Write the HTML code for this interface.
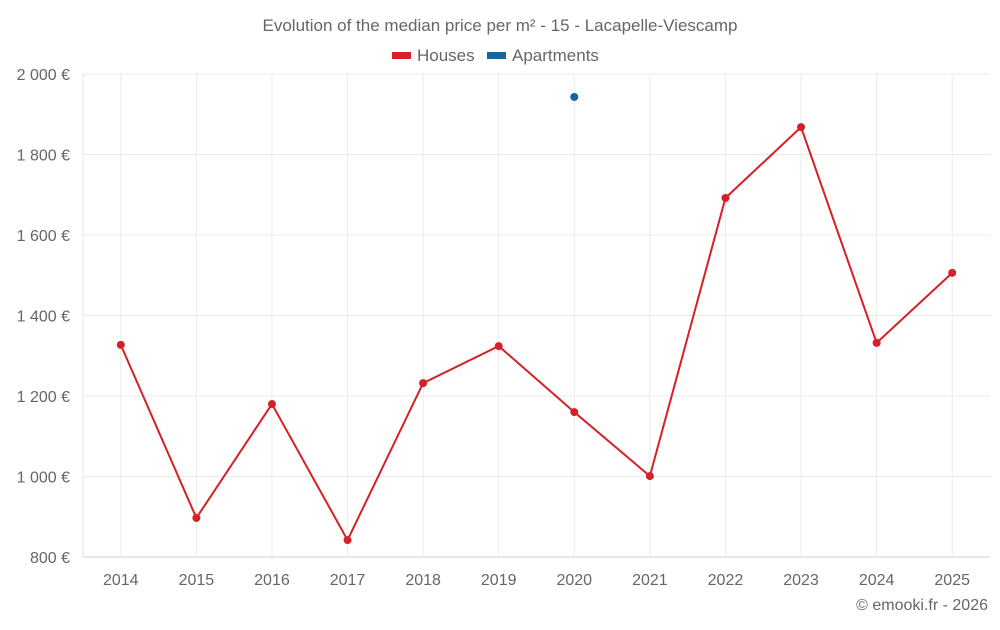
<!DOCTYPE html>
<html><head><meta charset="utf-8"><style>
body{margin:0;background:#fff;font-family:"Liberation Sans",sans-serif}
svg text{font-family:"Liberation Sans",sans-serif;fill:#666}
</style></head><body>
<svg id="c" width="1000" height="625">
<text x="500" y="31" text-anchor="middle" font-size="17">Evolution of the median price per m² - 15 - Lacapelle-Viescamp</text>
<g>
<rect x="392" y="52" width="19" height="7" fill="#d62027"/>
<text x="417" y="61" font-size="17">Houses</text>
<rect x="487" y="52" width="19" height="7" fill="#0f66a0"/>
<text x="512" y="61" font-size="17">Apartments</text>
</g>
<g id="grid"></g><g id="axes"></g><g id="series"></g>
<text x="988" y="610" text-anchor="end" font-size="16">© emooki.fr - 2026</text>
</svg>
<script>
const categories=["2014","2015","2016","2017","2018","2019","2020","2021","2022","2023","2024","2025"];
const houses=[1327,897,1180,842,1232,1324,1160,1001,1692,1868,1332,1506];
const apartments=[null,null,null,null,null,null,1943,null,null,null,null,null];
const yTicks=[800,1000,1200,1400,1600,1800,2000];
const yLabels=["800 €","1 000 €","1 200 €","1 400 €","1 600 €","1 800 €","2 000 €"];
const L=83,R=990,T=74,B=557,yMin=800,yMax=2000;
const band=(R-L)/categories.length;
const x=i=>L+band*(i+0.5);
const y=v=>B-(v-yMin)/(yMax-yMin)*(B-T);
const ns="http://www.w3.org/2000/svg";
function mk(tag,attrs,parent,text){const e=document.createElementNS(ns,tag);for(const k in attrs)e.setAttribute(k,attrs[k]);if(text!=null)e.textContent=text;document.getElementById(parent).appendChild(e);return e;}
yTicks.forEach((t,i)=>{
const g=mk("line",{x1:L,x2:R,y1:y(t),y2:y(t),stroke:i==0?"#d0d0d0":"#ebebeb"},"grid");


const tx=mk("text",{x:70,y:y(t)+6,"text-anchor":"end","font-size":16},"axes",yLabels[i]);


});
const ax=mk("line",{x1:L,x2:L,y1:T,y2:B,stroke:"#e6e6e6"},"grid");


categories.forEach((c,i)=>{
const gl=mk("line",{x1:x(i),x2:x(i),y1:T,y2:B,stroke:"#ebebeb"},"grid");


const tx=mk("text",{x:x(i),y:585,"text-anchor":"middle","font-size":16},"axes",c);


});
const pts=houses.map((v,i)=>x(i)+","+y(v)).join(" ");
const pl=mk("polyline",{points:pts,fill:"none",stroke:"#d62027","stroke-width":2},"series");


houses.forEach((v,i)=>{
const c=mk("circle",{cx:x(i),cy:y(v),r:4,fill:"#d62027"},"series");


});
apartments.forEach((v,i)=>{if(v==null)return;
const c=mk("circle",{cx:x(i),cy:y(v),r:4,fill:"#0f66a0"},"series");


});
</script>
</body></html>
